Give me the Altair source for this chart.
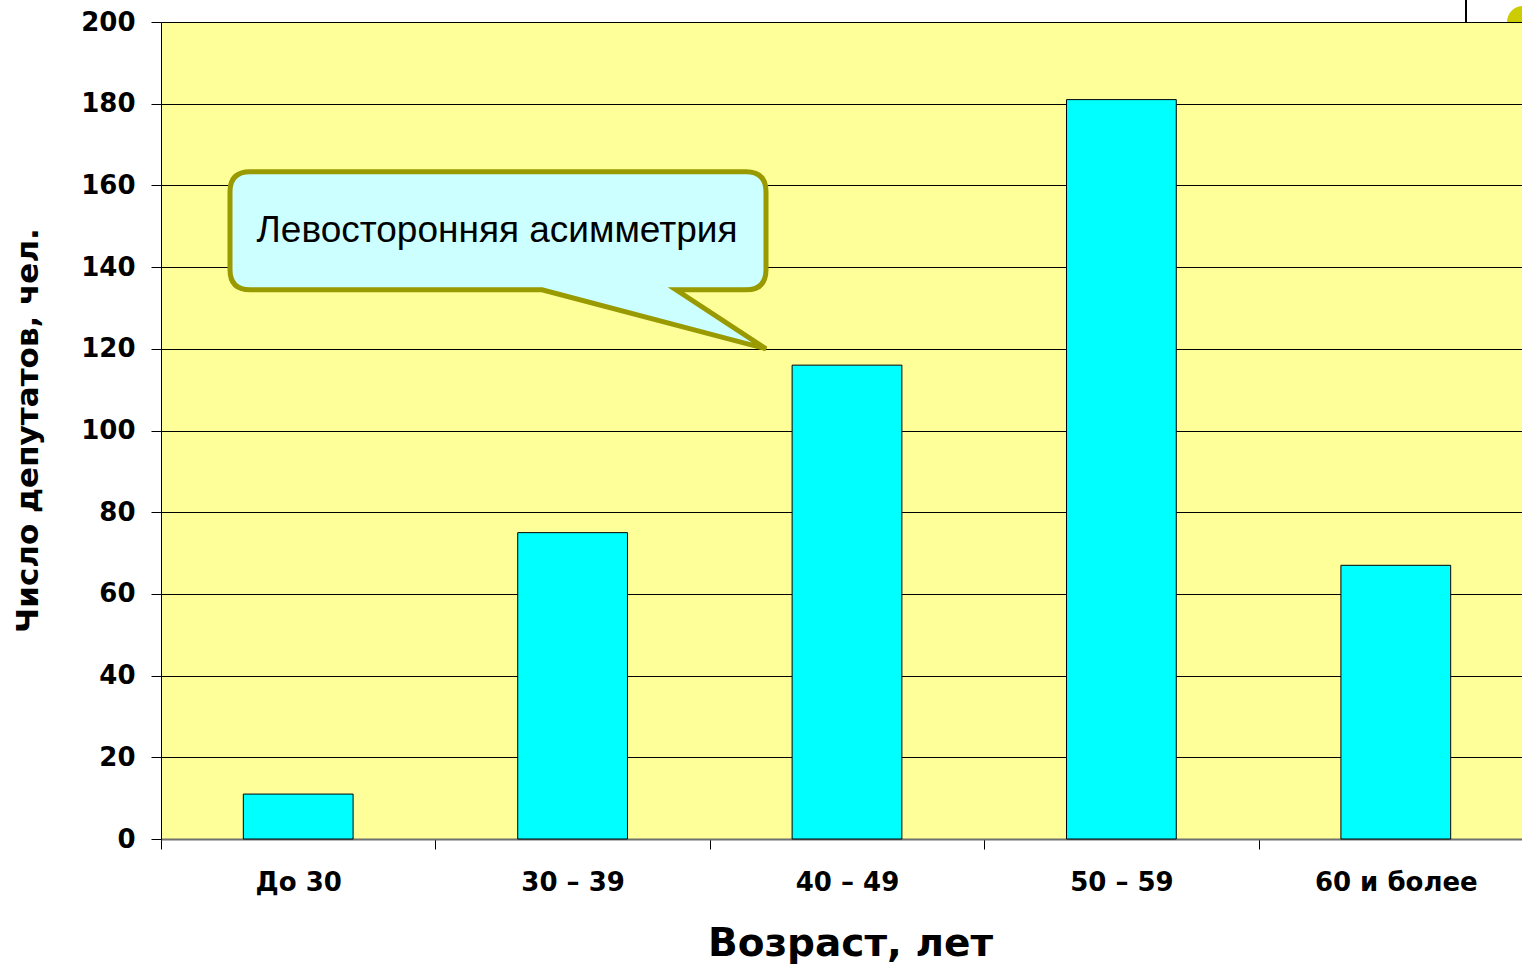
import altair as alt
import pandas as pd

# Age groups of deputies and head counts
age_groups = ["До 30", "30 – 39", "40 – 49", "50 – 59", "60 и более"]
deputies = [11, 75, 116, 181, 67]
y_ticks = [0, 20, 40, 60, 80, 100, 120, 140, 160, 180, 200]

callout_text = "Левосторонняя асимметрия"

df = pd.DataFrame({"group": age_groups, "count": deputies})

LABEL_FONT = "DejaVu Sans"

bars = (
    alt.Chart(df)
    .mark_bar(
        width=alt.RelativeBandSize(0.4),
        fill="#00FFFF",
        stroke="#000000",
        strokeWidth=1,
    )
    .encode(
        x=alt.X(
            "group:N",
            sort=age_groups,
            scale=alt.Scale(range=[0, 1372], paddingInner=0, paddingOuter=0),
            axis=alt.Axis(
                title="Возраст, лет",
                titleFont=LABEL_FONT,
                titleFontSize=39,
                titleFontWeight="bold",
                titleColor="#000000",
                titleX=689,
                titleY=116,
                titleBaseline="alphabetic",
                titleAlign="center",
                titleAnchor="start",
                labelAngle=0,
                labelFont=LABEL_FONT,
                labelFontSize=26,
                labelFontWeight="bold",
                labelColor="#000000",
                labelBaseline="alphabetic",
                labelPadding=41,
                tickBand="extent",
                tickSize=10,
                tickColor="#000000",
                tickWidth=1,
                domainColor="#707070",
                domainWidth=2,
                grid=False,
            ),
        ),
        y=alt.Y(
            "count:Q",
            scale=alt.Scale(domain=[0, 200], nice=False),
            axis=alt.Axis(
                title="Число депутатов, чел.",
                titleFont=LABEL_FONT,
                titleFontSize=31,
                titleFontWeight="bold",
                titleColor="#000000",
                titleAngle=-90,
                titleX=-124,
                titleY=408,
                titleBaseline="alphabetic",
                titleAlign="center",
                titleAnchor="start",
                values=y_ticks,
                labelFont=LABEL_FONT,
                labelFontSize=26,
                labelFontWeight="bold",
                labelColor="#000000",
                labelPadding=16,
                tickSize=10,
                tickColor="#000000",
                tickWidth=1,
                domainColor="#000000",
                domainWidth=1,
                grid=True,
                gridColor="#000000",
                gridWidth=1,
            ),
        ),
    )
)

# Speech-bubble callout, tip resting on the 120 gridline
bubble_path = (
    "M -516 -177 L -20 -177 Q 0 -177 0 -157 L 0 -79 Q 0 -59 -20 -59 "
    "L -90 -59 L 0 0 L -224 -59 L -516 -59 Q -536 -59 -536 -79 "
    "L -536 -157 Q -536 -177 -516 -177 Z"
)
bubble = (
    alt.Chart(pd.DataFrame({"note": [callout_text]}))
    .mark_point(
        shape=bubble_path,
        size=4,
        filled=True,
        fill="#CCFFFF",
        stroke="#999900",
        strokeWidth=5,
        opacity=1,
        strokeOpacity=1,
        fillOpacity=1,
    )
    .encode(x=alt.value(605), y=alt.datum(120))
)

bubble_text = (
    alt.Chart(pd.DataFrame({"note": [callout_text]}))
    .mark_text(
        font="Liberation Sans",
        fontSize=37,
        color="#000000",
        align="center",
        baseline="alphabetic",
    )
    .encode(x=alt.value(336), y=alt.value(220), text="note:N")
)

# Slide decorations at the top-right corner
corner_rule = (
    alt.Chart(pd.DataFrame({"k": [0]}))
    .mark_rule(color="#000000", strokeWidth=2)
    .encode(x=alt.value(1305), y=alt.value(-22), y2=alt.value(0))
)
corner_dot = (
    alt.Chart(pd.DataFrame({"k": [0]}))
    .mark_point(
        shape="M -1 0 C -1 -0.552 -0.552 -1 0 -1 C 0.552 -1 1 -0.552 1 0 Z",
        size=1024,
        filled=True,
        fill="#CCCC00",
        opacity=1,
        strokeWidth=0,
    )
    .encode(x=alt.value(1362), y=alt.value(0))
)

chart = (
    alt.layer(bars, bubble, bubble_text, corner_rule, corner_dot)
    .properties(
        width=1361,
        height=817,
        autosize=alt.AutoSizeParams(type="none"),
        padding={"left": 161, "top": 22, "right": 0, "bottom": 128},
        background="#FFFFFF",
    )
    .configure_view(fill="#FFFF99", stroke="transparent")
)

chart.save("out.html", embed_options={"renderer": "svg", "actions": False})
